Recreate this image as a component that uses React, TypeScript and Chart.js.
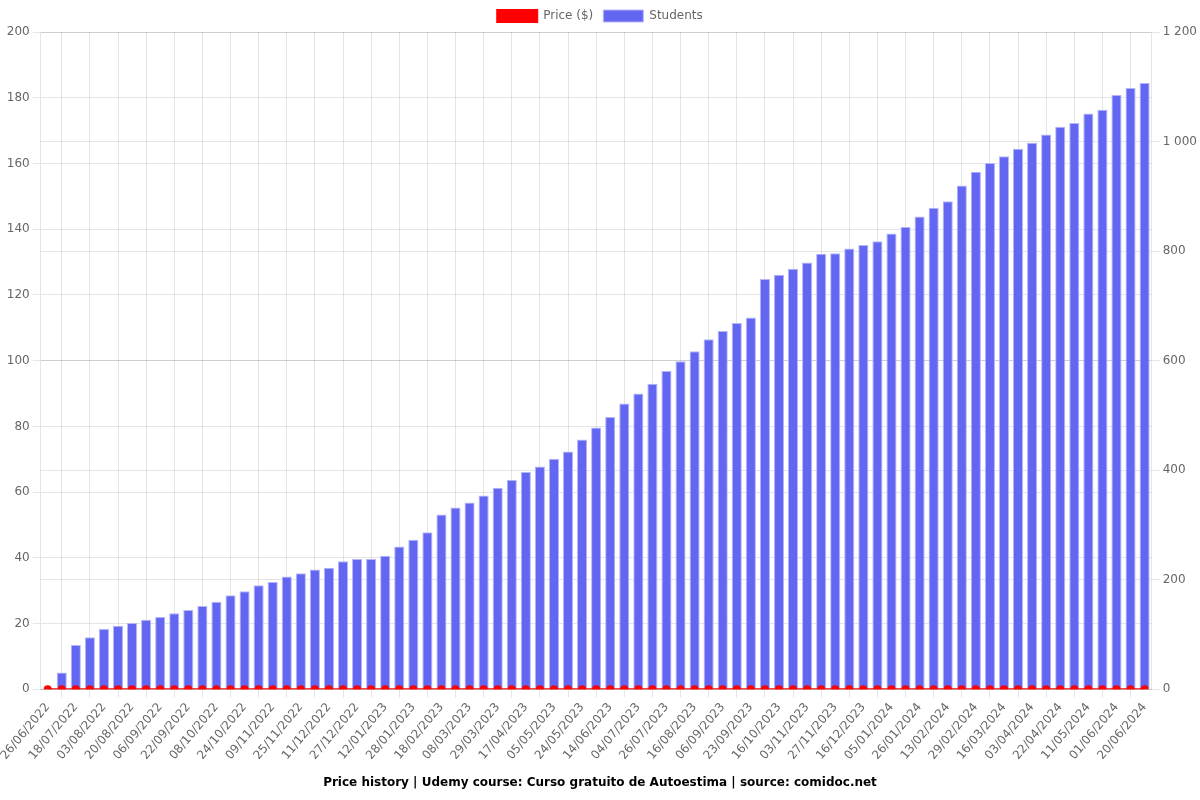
import React, { useEffect, useRef } from "react";
import { Chart, registerables } from "chart.js";

Chart.register(...registerables);
Chart.defaults.font.family = "'DejaVu Sans', sans-serif";

const dateLabels: string[] = [
  "26/06/2022", "07/07/2022", "18/07/2022", "26/07/2022", "03/08/2022", "11/08/2022",
  "20/08/2022", "28/08/2022", "06/09/2022", "14/09/2022", "22/09/2022", "30/09/2022",
  "08/10/2022", "16/10/2022", "24/10/2022", "01/11/2022", "09/11/2022", "17/11/2022",
  "25/11/2022", "03/12/2022", "11/12/2022", "19/12/2022", "27/12/2022", "04/01/2023",
  "12/01/2023", "20/01/2023", "28/01/2023", "07/02/2023", "18/02/2023", "26/02/2023",
  "08/03/2023", "18/03/2023", "29/03/2023", "08/04/2023", "17/04/2023", "26/04/2023",
  "05/05/2023", "14/05/2023", "24/05/2023", "03/06/2023", "14/06/2023", "24/06/2023",
  "04/07/2023", "15/07/2023", "26/07/2023", "05/08/2023", "16/08/2023", "26/08/2023",
  "06/09/2023", "14/09/2023", "23/09/2023", "04/10/2023", "16/10/2023", "25/10/2023",
  "03/11/2023", "15/11/2023", "27/11/2023", "06/12/2023", "16/12/2023", "26/12/2023",
  "05/01/2024", "15/01/2024", "26/01/2024", "04/02/2024", "13/02/2024", "21/02/2024",
  "29/02/2024", "08/03/2024", "16/03/2024", "24/03/2024", "03/04/2024", "12/04/2024",
  "22/04/2024", "01/05/2024", "11/05/2024", "21/05/2024", "01/06/2024", "10/06/2024",
  "20/06/2024",
];

const studentsValues: number[] = [
  0, 31, 81, 95, 110, 116, 121, 127, 132, 139, 145, 152,
  160, 172, 179, 190, 196, 206, 212, 219, 222, 234, 238, 238,
  244, 261, 273, 287, 319, 332, 341, 354, 368, 382, 397, 407,
  421, 434, 456, 478, 497, 522, 540, 558, 581, 599, 617, 639,
  654, 669, 679, 749, 757, 768, 779, 795, 796, 805, 811, 818,
  832, 844, 863, 879, 891, 920, 945, 961, 973, 987, 998, 1013,
  1027, 1034, 1051, 1058, 1085, 1098, 1107,
];

const priceValues: number[] = dateLabels.map(() => 0);

const titleText = "Price history | Udemy course: Curso gratuito de Autoestima | source: comidoc.net";

export default function App() {
  const canvasRef = useRef<HTMLCanvasElement | null>(null);

  useEffect(() => {
    if (!canvasRef.current) return;
    const chart = new Chart(canvasRef.current, {
      type: "bar",
      data: {
        labels: dateLabels,
        datasets: [
          {
            type: "line",
            label: "Price ($)",
            data: priceValues,
            borderColor: "#ff0000",
            backgroundColor: "#ff0000",
            borderWidth: 2,
            pointRadius: 3,
            pointBackgroundColor: "#ff0000",
            pointBorderColor: "#ff0000",
            yAxisID: "y",
          },
          {
            type: "bar",
            label: "Students",
            data: studentsValues,
            backgroundColor: "#6366f1",
            borderColor: "rgba(180,182,250,1)",
            borderWidth: 1,
            yAxisID: "y1",
          },
        ],
      },
      options: {
        animation: false,
        responsive: true,
        maintainAspectRatio: false,
        plugins: {
          legend: {
            position: "top",
          },
          title: {
            display: true,
            text: titleText,
            position: "bottom",
            color: "#000",
            font: { weight: "bold", size: 12 },
          },
        },
        scales: {
          x: {},
          y: {
            position: "left",
            min: 0,
            max: 200,
            ticks: { stepSize: 20 },
          },
          y1: {
            position: "right",
            min: 0,
            max: 1200,
            ticks: {
              stepSize: 200,
              callback: (v: any) => String(v).replace(/\B(?=(\d{3})+(?!\d))/g, " "),
            },
          },
        },
      },
    });
    return () => chart.destroy();
  }, []);

  return (
    <div style={{ position: "absolute", left: 0, top: 0, width: 1200, height: 800 }}>
      <canvas ref={canvasRef} />
    </div>
  );
}
